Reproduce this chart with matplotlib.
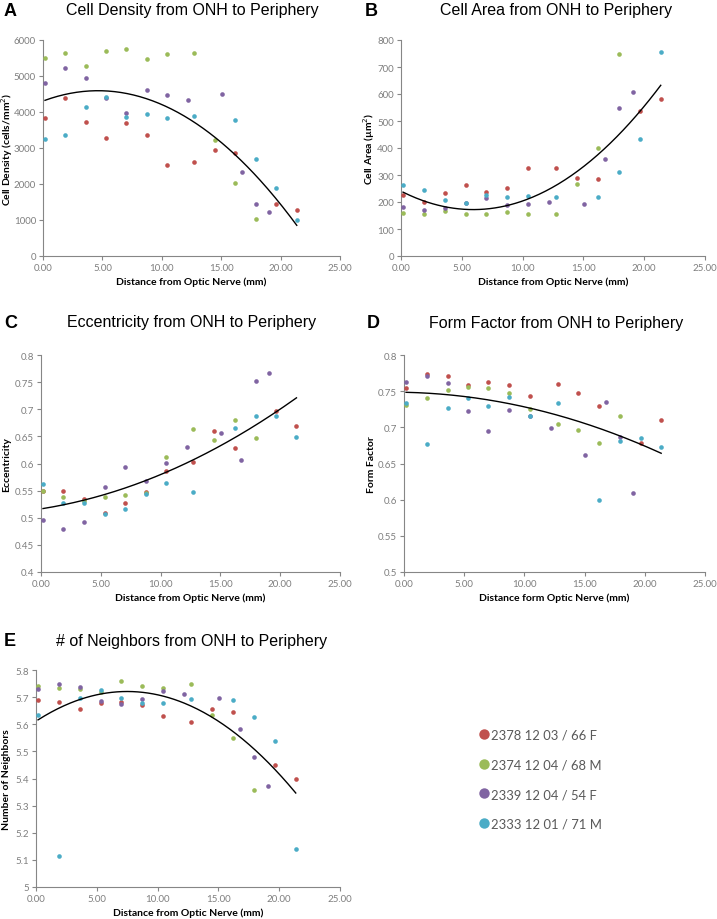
import numpy as np
import matplotlib
matplotlib.use("Agg")
import matplotlib.pyplot as plt
from matplotlib.lines import Line2D

# donor labels and colours (Excel 2010 palette)
donors = ["2378 12 03 / 66 F", "2374 12 04 / 68 M", "2339 12 04 / 54 F", "2333 12 01 / 71 M"]
colors = ["#C0504D", "#9BBB59", "#8064A2", "#4BACC6"]

# distance from optic nerve (mm) for each donor
x_red = [0.17, 1.88, 3.62, 5.33, 7.0, 8.74, 10.45, 12.75, 14.49, 16.2, 19.65, 21.36]
x_green = [0.17, 1.88, 3.62, 5.33, 7.0, 8.74, 10.45, 12.75, 14.49, 16.2, 17.94]
x_purple = [0.17, 1.88, 3.62, 5.33, 7.0, 8.74, 10.45, 12.19, 15.05, 16.76, 17.94, 19.06]
x_cyan = [0.17, 1.88, 3.62, 5.33, 7.0, 8.74, 10.45, 12.75, 16.2, 17.94, 19.65, 21.36]
xs = [x_red, x_green, x_purple, x_cyan]

# A - cell density
dens_red = [3824, 4389, 3722, 3269, 3694, 3370, 2528, 2602, 2944, 2852, 1444, 1287]
dens_green = [5500, 5639, 5278, 5685, 5750, 5472, 5620, 5630, 3222, 2037, 1019]
dens_purple = [4796, 5231, 4944, 4380, 3981, 4620, 4481, 4324, 4509, 2324, 1444, 1231]
dens_cyan = [3250, 3352, 4139, 4407, 3852, 3935, 3843, 3889, 3787, 2704, 1880, 991]

# B - cell area
area_red = [226, 200, 233, 262, 237, 252, 326, 326, 288, 284, 536, 580]
area_green = [158, 154, 165, 156, 154, 164, 156, 156, 268, 400, 748]
area_purple = [181, 169, 177, 196, 214, 189, 193, 199, 194, 360, 547, 609]
area_cyan = [263, 244, 207, 198, 225, 220, 223, 220, 220, 312, 435, 757]

# C - eccentricity
ecc_red = [0.550, 0.550, 0.534, 0.509, 0.527, 0.548, 0.587, 0.603, 0.660, 0.628, 0.696, 0.669]
ecc_green = [0.549, 0.538, 0.531, 0.538, 0.542, 0.546, 0.6126, 0.6636, 0.643, 0.6796, 0.6476]
ecc_purple = [0.4965, 0.480, 0.493, 0.556, 0.593, 0.567, 0.601, 0.630, 0.657, 0.606, 0.752, 0.766]
ecc_cyan = [0.5616, 0.527, 0.527, 0.506, 0.517, 0.543, 0.564, 0.547, 0.666, 0.687, 0.687, 0.648]

# D - form factor
ff_red = [0.7548, 0.7737, 0.771, 0.758, 0.763, 0.7585, 0.743, 0.760, 0.748, 0.729, 0.678, 0.710]
ff_green = [0.731, 0.740, 0.752, 0.756, 0.755, 0.7475, 0.725, 0.705, 0.697, 0.678, 0.715]
ff_purple = [0.763, 0.771, 0.761, 0.722, 0.6945, 0.724, 0.716, 0.699, 0.662, 0.7346, 0.6866, 0.6097]
ff_cyan = [0.734, 0.677, 0.727, 0.740, 0.730, 0.742, 0.715, 0.733, 0.5995, 0.681, 0.6857, 0.673]

# E - number of neighbors
nb_red = [5.688, 5.681, 5.657, 5.678, 5.683, 5.671, 5.631, 5.610, 5.655, 5.646, 5.450, 5.399]
nb_green = [5.740, 5.732, 5.730, 5.718, 5.761, 5.741, 5.735, 5.748, 5.635, 5.551, 5.358]
nb_purple = [5.731, 5.748, 5.738, 5.686, 5.676, 5.694, 5.721, 5.710, 5.695, 5.581, 5.4775, 5.374]
nb_cyan = [5.634, 5.113, 5.698, 5.725, 5.695, 5.677, 5.679, 5.694, 5.690, 5.628, 5.538, 5.139]

W, H = 717, 920
fig = plt.figure(figsize=(W / 100, H / 100), dpi=100)
fig.patch.set_facecolor("white")

TITLE_FONT = "Liberation Sans"
BODY_FONT = "Lato"
GRAY = "#7f7f7f"


def px_axes(l, t, r, b):
    return fig.add_axes([l / W, 1 - b / H, (r - l) / W, (b - t) / H])


def draw_panel(box, series, ylim, ystep, ylabel, xlabel, letter, title, title_y, letter_x, ylab_x):
    l, t, r, b = box
    ax = px_axes(l, t, r, b)
    for x, y, c in zip(xs, series, colors):
        ax.scatter(x, y, s=11, color=c, linewidths=0, zorder=3)
    # 2nd order polynomial trendline over all points
    xa = np.concatenate([np.array(x) for x in xs])
    ya = np.concatenate([np.array(y) for y in series])
    coef = np.polyfit(xa, ya, 2)
    xf = np.linspace(xa.min(), xa.max(), 200)
    ax.plot(xf, np.polyval(coef, xf), color="black", lw=1.0, zorder=4)

    ax.set_xlim(0, 25)
    ax.set_ylim(*ylim)
    ax.set_xticks(np.arange(0, 25.01, 5))
    ax.set_xticklabels([f"{v:.2f}" for v in np.arange(0, 25.01, 5)])
    yt = np.arange(ylim[0], ylim[1] + ystep / 2, ystep)
    ax.set_yticks(yt)
    ax.set_yticklabels([f"{round(v, 2):g}" for v in yt])
    for s in ["top", "right"]:
        ax.spines[s].set_visible(False)
    for s in ["left", "bottom"]:
        ax.spines[s].set_color("#868686")
        ax.spines[s].set_linewidth(0.8)
    ax.tick_params(axis="both", colors="#868686", labelcolor=GRAY, labelsize=7.0,
                   length=3, width=0.8, pad=2)
    for lab in ax.get_xticklabels() + ax.get_yticklabels():
        lab.set_fontfamily(BODY_FONT)
    ax.set_xlabel(xlabel, fontsize=7.5, fontweight="bold", fontfamily=BODY_FONT, labelpad=3)
    ax.set_ylabel(ylabel, fontsize=7.5, fontweight="bold", fontfamily=BODY_FONT)
    ax.yaxis.set_label_coords((ylab_x - l) / (r - l), 0.5)
    ax.yaxis.label.set_horizontalalignment("center")
    ax.yaxis.label.set_verticalalignment("center")

    cx = 192 if l < 200 else 556
    fig.text(cx / W, 1 - title_y / H, title, ha="center", va="center",
             fontsize=11.5, fontfamily=TITLE_FONT)
    fig.text(letter_x / W, 1 - title_y / H, letter, ha="left", va="center",
             fontsize=13, fontweight="bold", fontfamily=TITLE_FONT)
    return ax


draw_panel((43, 41, 340, 257), [dens_red, dens_green, dens_purple, dens_cyan],
           (0, 6000), 1000, "Cell Density (cells/mm$^2$)", "Distance from Optic Nerve (mm)",
           "A", "Cell Density from ONH to Periphery", 11, 4, 7)
draw_panel((401, 41, 705, 257), [area_red, area_green, area_purple, area_cyan],
           (0, 800), 100, "Cell Area (\u00b5m$^2$)", "Distance from Optic Nerve (mm)",
           "B", "Cell Area from ONH to Periphery", 11, 365, 369)
draw_panel((41, 356, 340, 573), [ecc_red, ecc_green, ecc_purple, ecc_cyan],
           (0.4, 0.8), 0.05, "Eccentricity", "Distance from Optic Nerve (mm)",
           "C", "Eccentricity from ONH to Periphery", 323, 4, 7)
draw_panel((404, 356, 705, 573), [ff_red, ff_green, ff_purple, ff_cyan],
           (0.5, 0.8), 0.05, "Form Factor", "Distance form Optic Nerve (mm)",
           "D", "Form Factor from ONH to Periphery", 324, 367, 371)
draw_panel((36, 671, 340, 888), [nb_red, nb_green, nb_purple, nb_cyan],
           (5.0, 5.8), 0.1, "Number of Neighbors", "Distance from Optic Nerve (mm)",
           "E", "# of Neighbors from ONH to Periphery", 642, 4, 7)

handles = [Line2D([], [], marker="o", linestyle="none", markersize=7.5,
                  markerfacecolor=c, markeredgewidth=0) for c in colors]
leg = fig.legend(handles, donors, loc="upper left", bbox_to_anchor=(466 / W, 1 - 718 / H),
                 frameon=False, handletextpad=0.05, handlelength=1.0, labelspacing=1.35,
                 prop={"family": BODY_FONT, "size": 9.4})
for txt in leg.get_texts():
    txt.set_color("#595959")

fig.savefig("out.png", dpi=100)
